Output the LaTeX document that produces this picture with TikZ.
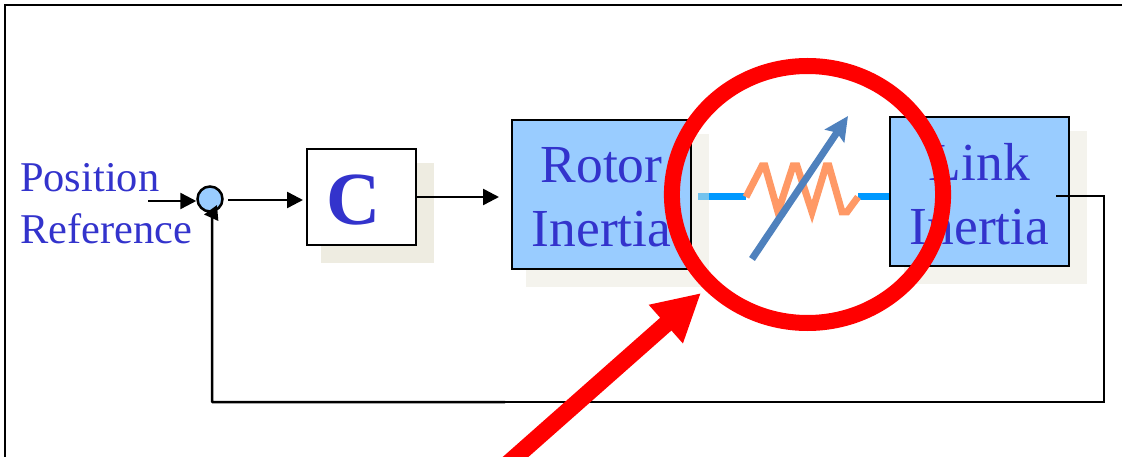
\documentclass[tikz,border=0pt]{standalone}
\usepackage{fontspec}
\setmainfont{Liberation Serif}
\usetikzlibrary{arrows.meta}
\definecolor{textblue}{HTML}{3333CC}
\definecolor{boxblue}{HTML}{99CCFF}
\definecolor{lineblue}{HTML}{0099FF}
\definecolor{stubblue}{HTML}{73C3EE}
\definecolor{steelblue}{HTML}{4F81BD}
\definecolor{springorange}{HTML}{FF9966}
\definecolor{shadegrey}{HTML}{EEECE1}
\definecolor{shadelight}{HTML}{F4F3ED}
\tikzset{
  wire/.style={draw=black,line width=2.5pt},
  flow/.style={wire,-{Triangle[length=16pt,width=16pt]}},
  inertia/.style={draw=black,line width=2.5pt,fill=boxblue,
    minimum width=179pt,minimum height=149pt,inner sep=0pt},
  inertianame/.style={text=textblue,align=center,inner sep=0pt,
    font=\fontsize{53.5}{64}\selectfont},
}

\begin{document}
\begin{tikzpicture}[x=1pt,y=-1pt]
  \clip (0,0) rectangle (1122,457);
  \coordinate (framebl) at (5,457);
  \coordinate (frametl) at (5,5);
  \coordinate (frametr) at (1122,5);
  \draw[line width=2pt] (framebl) -- (frametl) -- (frametr);
  % shadows
  \fill[shadegrey] (321,163) rectangle (434,263);
  \fill[shadelight] (526,134) rectangle (709,287);
  \fill[shadelight] (904,131) rectangle (1087,284);
  % blocks
  \node[anchor=west,inner sep=0pt,text=textblue,align=left,font=\fontsize{42.4}{52}\selectfont] (posref) at (20,204) {Position\\Reference};
  \node[circle,draw=black,line width=2.5pt,fill=boxblue,minimum size=25pt,inner sep=0pt] (sum) at (210,199) {};
  \node[draw=black,line width=2.5pt,fill=white,minimum width=109pt,minimum height=96pt,inner sep=0pt] (ctrl) at (361.5,197) {};
  \node[text=textblue,inner sep=0pt,font=\fontsize{75}{75}\selectfont\bfseries] (ctrlname) at (353.5,200) {C};
  \node[inertia] (rotor) at (601.5,194.5) {};
  \node[inertianame] (rotorname) at (601.5,197) {Rotor\\Inertia};
  \node[inertia] (link) at (979.5,191.5) {};
  \node[inertianame] (linkname) at (979.5,194) {Link\\Inertia};
  % forward path
  \coordinate (refstart) at (148,201);
  \coordinate (sumout) at (228,200);
  \coordinate (ctrlin) at (303,200);
  \coordinate (rotorin) at (499,197);
  \draw[flow] (refstart) -- (refstart -| sum.west);
  \draw[flow] (sumout) -- (ctrlin);
  \draw[flow] (ctrl.east) -- (rotorin);
  % feedback path
  \coordinate (linkout) at (1056,196);
  \coordinate (fbright) at (1104,402);
  \coordinate (fbmid) at (505,402);
  \coordinate (fbleft) at (212,402);
  \coordinate (fbturn) at (212,216);
  \coordinate (sumfb) at (217,205);
  \draw[line width=1.5pt] (linkout) -| (fbright) -- (fbmid);
  \draw[wire,line join=round,-{Triangle[length=14pt,width=15pt]}] (fbmid) -- (fbleft) -- (fbturn) -- (sumfb);
  % spring
  \coordinate (stubl) at (698,197);
  \coordinate (stubm) at (709,197);
  \coordinate (springl) at (746,197);
  \coordinate (springr) at (858,197);
  \draw[line width=7pt,draw=stubblue] (stubl) -- (stubm);
  \draw[line width=7pt,draw=lineblue] (stubm) -- (springl);
  \draw[line width=7pt,draw=lineblue] (springr) -- (link.west |- springr);
  \draw[line width=7pt,draw=springorange,line join=miter] (springl) -- (762,166) -- (765,166) -- (778,212) -- (793,166) -- (797,166) -- (812,212) -- (826,166) -- (829,166) -- (842,212) -- (847,212) -- (springr);
  \coordinate (dampstart) at (752,259);
  \coordinate (damptip) at (848,116);
  \draw[line width=7pt,draw=steelblue,-{Stealth[length=24pt,width=23pt,inset=4pt]}] (dampstart) -- (damptip);
  % callout
  \node[draw=red,line width=16pt,circle,minimum size=257pt,inner sep=0pt,xscale=1.055] (ring) at (807.5,194.5) {};
  \coordinate (calloutstart) at (500.8,470);
  \coordinate (callouttip) at (701,293);
  \draw[line width=17pt,draw=red,-{Triangle[length=47pt,width=48pt]}] (calloutstart) -- (callouttip);
\end{tikzpicture}
\end{document}
